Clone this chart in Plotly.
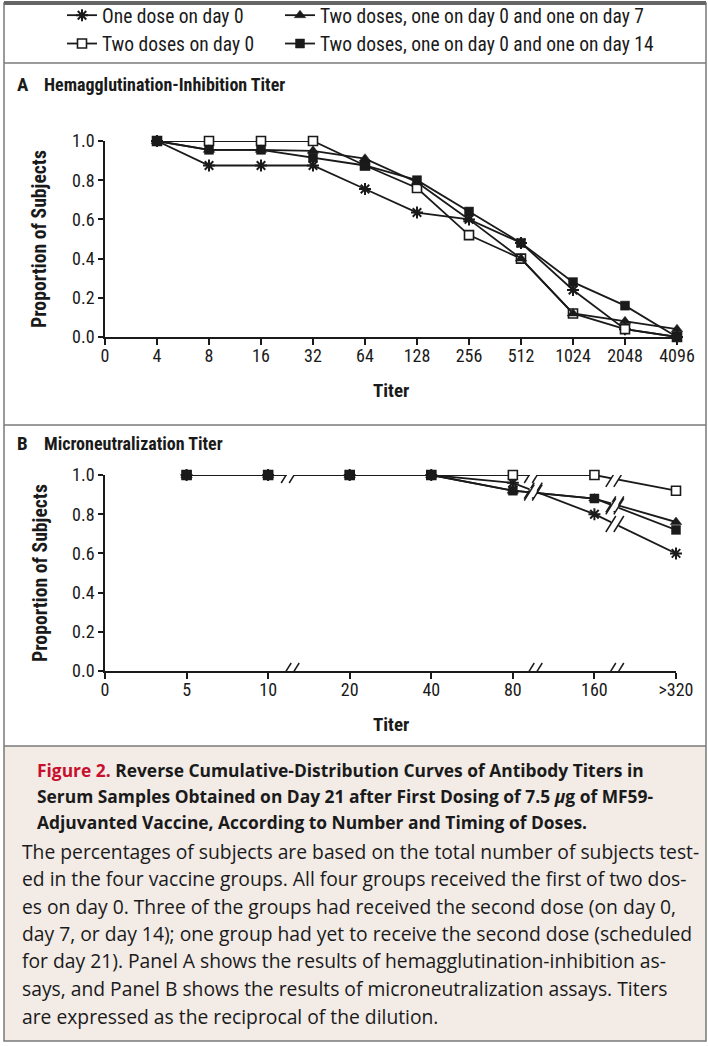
import plotly.graph_objects as go

# ---------------- data ----------------
series_names = [
    "One dose on day 0",
    "Two doses on day 0",
    "Two doses, one on day 0 and one on day 7",
    "Two doses, one on day 0 and one on day 14",
]

titers_a = ["0", "4", "8", "16", "32", "64", "128", "256", "512", "1024", "2048", "4096"]
points_a = ["4", "8", "16", "32", "64", "128", "256", "512", "1024", "2048", "4096"]
one_dose_a = [1.0, 0.875, 0.875, 0.875, 0.755, 0.635, 0.60, 0.48, 0.24, 0.04, 0.0]
two_day0_a = [1.0, 1.0, 1.0, 1.0, 0.875, 0.76, 0.52, 0.40, 0.12, 0.04, 0.0]
day7_a = [1.0, 0.955, 0.955, 0.95, 0.91, 0.79, 0.60, 0.40, 0.12, 0.08, 0.04]
day14_a = [1.0, 0.955, 0.955, 0.915, 0.875, 0.80, 0.64, 0.48, 0.28, 0.16, 0.0]

titers_b = ["0", "5", "10", "20", "40", "80", "160", ">320"]
points_b = ["5", "10", "20", "40", "80", "160", ">320"]
one_dose_b = [1.0, 1.0, 1.0, 1.0, 0.96, 0.80, 0.60]
two_day0_b = [1.0, 1.0, 1.0, 1.0, 1.0, 1.0, 0.92]
day7_b = [1.0, 1.0, 1.0, 1.0, 0.92, 0.88, 0.76]
day14_b = [1.0, 1.0, 1.0, 1.0, 0.92, 0.88, 0.72]

# axis-break positions (in category-index units) for panel B
breaks_b = [2.27, 5.25, 6.25]

y_ticks = [0.0, 0.2, 0.4, 0.6, 0.8, 1.0]

# ---------------- styling ----------------
W, H = 708, 1046
FIG_FONT = "Roboto Condensed, DejaVu Sans Condensed, sans-serif"
CAP_FONT = "Open Sans, Noto Sans, sans-serif"
INK = "#1a1a1a"
FRAME = "#7a7a7a"
CAPTION_BG = "#f2ebe6"
RED = "#c8102e"


def px(x):
    return x / W


def py(y):
    return 1 - y / H


marker_styles = [
    dict(symbol="asterisk-open", size=10, color=INK, line=dict(width=2, color=INK)),
    dict(symbol="square", size=9, color="white", line=dict(width=1.6, color=INK)),
    dict(symbol="triangle-up", size=10, color=INK, line=dict(width=0.5, color=INK)),
    dict(symbol="square", size=9, color=INK, line=dict(width=0.5, color=INK)),
]
legend_of = ["legend", "legend", "legend2", "legend2"]

fig = go.Figure()

data_a = [one_dose_a, two_day0_a, day7_a, day14_a]
data_b = [one_dose_b, two_day0_b, day7_b, day14_b]

for i, name in enumerate(series_names):
    fig.add_trace(go.Scatter(
        x=[titers_a.index(t) for t in points_a], y=data_a[i],
        mode="lines+markers", name=name,
        line=dict(color=INK, width=1.8), marker=marker_styles[i],
        cliponaxis=False, xaxis="x", yaxis="y",
        legend=legend_of[i], legendgroup=name,
    ))
for i, name in enumerate(series_names):
    fig.add_trace(go.Scatter(
        x=[titers_b.index(t) for t in points_b], y=data_b[i],
        mode="lines+markers", name=name, showlegend=False,
        line=dict(color=INK, width=1.8), marker=marker_styles[i],
        cliponaxis=False, xaxis="x2", yaxis="y2",
    ))

axis_common = dict(
    showline=True, linecolor=INK, linewidth=1.5, ticks="outside",
    tickcolor=INK, tickwidth=1.5, showgrid=False, zeroline=False,
    tickfont=dict(family=FIG_FONT, size=18, color=INK),
)

fig.update_layout(
    width=W, height=H, margin=dict(l=0, r=0, t=0, b=0, autoexpand=False),
    paper_bgcolor="white", plot_bgcolor="white",
    font=dict(family=FIG_FONT, color=INK),
    xaxis=dict(domain=[px(105), px(677)], anchor="y", range=[0, len(titers_a) - 1],
               tickvals=list(range(len(titers_a))), ticktext=titers_a, ticklen=6,
               ticklabelstandoff=-4, **axis_common),
    yaxis=dict(domain=[py(337), py(141)], anchor="x", range=[0, 1],
               tickvals=y_ticks, tickformat=".1f", ticklen=5, **axis_common),
    xaxis2=dict(domain=[px(105), px(676)], anchor="y2", range=[0, len(titers_b) - 1],
                tickvals=list(range(len(titers_b))), ticktext=titers_b, ticklen=6,
                ticklabelstandoff=-4, **axis_common),
    yaxis2=dict(domain=[py(671), py(475)], anchor="x2", range=[0, 1],
                tickvals=y_ticks, tickformat=".1f", ticklen=5, **axis_common),
    legend=dict(x=px(62), y=py(-4), xanchor="left", yanchor="top",
                font=dict(family=FIG_FONT, size=19.5, color=INK), tracegroupgap=0,
                itemwidth=30, bgcolor="rgba(0,0,0,0)"),
    legend2=dict(x=px(280), y=py(-4), xanchor="left", yanchor="top",
                 font=dict(family=FIG_FONT, size=19.5, color=INK), tracegroupgap=0,
                 itemwidth=30, bgcolor="rgba(0,0,0,0)"),
)

shapes = []
# caption background and frame
shapes.append(dict(type="rect", xref="paper", yref="paper", x0=px(4), x1=px(706),
                   y0=py(1041), y1=py(746), fillcolor=CAPTION_BG, line=dict(width=0),
                   layer="below"))
shapes.append(dict(type="rect", xref="paper", yref="paper", x0=px(4), x1=px(706),
                   y0=py(1041), y1=py(3), line=dict(color=FRAME, width=1.5)))
shapes.append(dict(type="line", xref="paper", yref="paper", x0=px(4), x1=px(706),
                   y0=py(3), y1=py(3), line=dict(color="#666666", width=4)))
for yy in (63, 425, 746):
    shapes.append(dict(type="line", xref="paper", yref="paper", x0=px(4), x1=px(706),
                       y0=py(yy), y1=py(yy), line=dict(color=FRAME, width=1.5)))


def interp(vals, xs, b):
    for j in range(len(xs) - 1):
        if xs[j] <= b <= xs[j + 1]:
            f = (b - xs[j]) / (xs[j + 1] - xs[j])
            return vals[j] + f * (vals[j + 1] - vals[j])
    return None


xs_b = [titers_b.index(t) for t in points_b]
for b in breaks_b:
    ys = {0.0}
    for vals in data_b:
        v = interp(vals, xs_b, b)
        if v is not None:
            ys.add(round(v, 3))
    for yb in ys:
        shapes.append(dict(type="rect", xref="x2", yref="y2", xsizemode="pixel",
                           ysizemode="pixel", xanchor=b, yanchor=yb,
                           x0=-3.5, x1=3.5, y0=-4.5, y1=4.5, fillcolor="white",
                           line=dict(width=0)))
        for dx in (-4, 4):
            shapes.append(dict(type="line", xref="x2", yref="y2", xsizemode="pixel",
                               ysizemode="pixel", xanchor=b, yanchor=yb,
                               x0=dx - 5, x1=dx + 5, y0=-8, y1=8,
                               line=dict(color=INK, width=1.5)))
fig.update_layout(shapes=shapes)

ann = []


def text(x, y, s, size, family=FIG_FONT, xanchor="left", bold=False, angle=0, color=INK):
    ann.append(dict(xref="paper", yref="paper", x=px(x), y=py(y),
                    text=(f"<b>{s}</b>" if bold else s), borderpad=0,
                    showarrow=False, xanchor=xanchor, yanchor="middle", textangle=angle,
                    font=dict(family=family, size=size, color=color)))


# panel titles
text(16, 85, "A", 19, bold=True)
text(43, 85, "Hemagglutination-Inhibition Titer", 18, bold=True)
text(16, 443, "B", 19, bold=True)
text(43, 443, "Microneutralization Titer", 18, bold=True)
# axis titles
text(40, 239, "Proportion of Subjects", 19.7, xanchor="center", bold=True, angle=-90)
text(40, 573, "Proportion of Subjects", 19.7, xanchor="center", bold=True, angle=-90)
text(391, 390, "Titer", 19, xanchor="center", bold=True)
text(391, 724, "Titer", 19, xanchor="center", bold=True)

# caption
title_lines = [
    f"<span style='color:{RED}'>Figure 2.</span> Reverse Cumulative-Distribution Curves of Antibody Titers in",
    "Serum Samples Obtained on Day 21 after First Dosing of 7.5 <i>μ</i>g of MF59-",
    "Adjuvanted Vaccine, According to Number and Timing of Doses.",
]
for k, s in enumerate(title_lines):
    text(36, 770 + k * 26, s, 17.4, family=CAP_FONT, bold=True)

body_lines = [
    "The percentages of subjects are based on the total number of subjects test-",
    "ed in the four vaccine groups. All four groups received the first of two dos-",
    "es on day 0. Three of the groups had received the second dose (on day 0,",
    "day 7, or day 14); one group had yet to receive the second dose (scheduled",
    "for day 21). Panel A shows the results of hemagglutination-inhibition as-",
    "says, and Panel B shows the results of microneutralization assays. Titers",
    "are expressed as the reciprocal of the dilution.",
]
for k, s in enumerate(body_lines):
    text(21, 851 + k * 27.5, s, 19.3, family=CAP_FONT)

fig.update_layout(annotations=ann)
fig.write_html(
    "out.html",
    config={"displayModeBar": False},
    post_script=("document.body.style.margin='0';document.body.style.overflow='hidden';"
                 "document.documentElement.style.overflow='hidden';"),
)
